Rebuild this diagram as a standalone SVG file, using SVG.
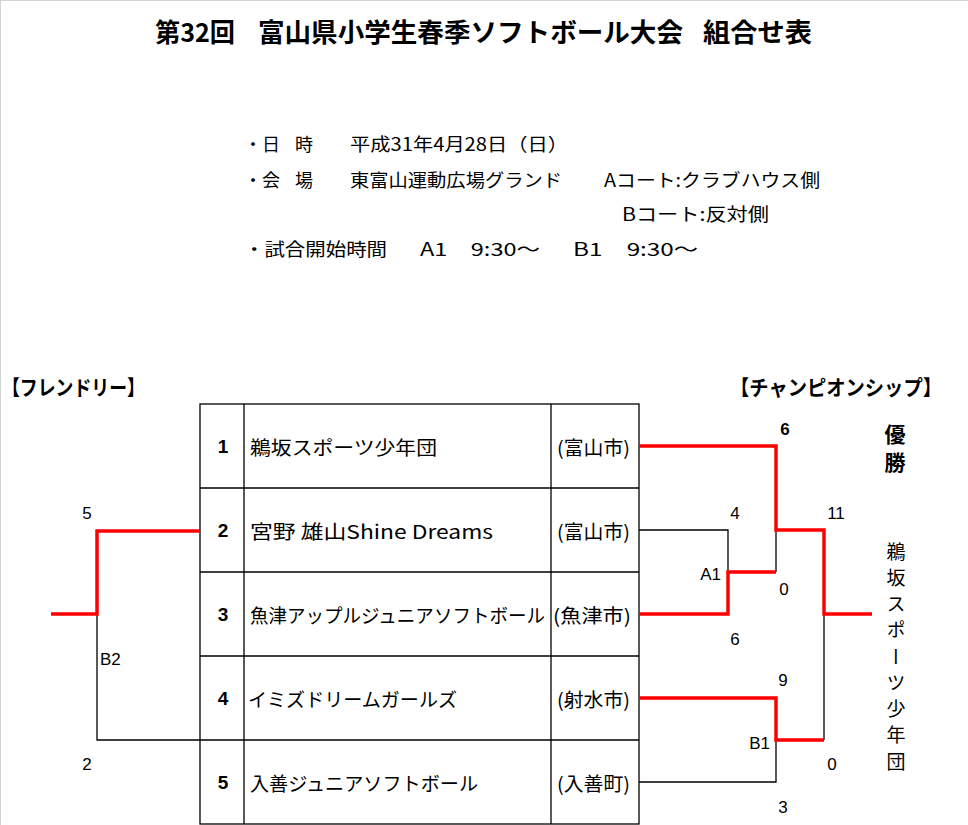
<svg xmlns="http://www.w3.org/2000/svg" width="968" height="825" viewBox="0 0 968 825">
<style>
.jp{font-family:"Noto Sans CJK JP","Noto Sans CJK SC",sans-serif;fill:#000;dominant-baseline:central}
.num{font-family:"Liberation Sans",Arial,sans-serif;fill:#000;dominant-baseline:central}
.title{font-size:26px;font-weight:bold}
.info{font-size:18px}
.head{font-size:21px;font-weight:bold}
.team{font-size:19px}
.city{font-size:19px}
.seed{font-size:19px;font-weight:bold;text-anchor:middle}
.score{font-size:17px;text-anchor:middle}
.grid{fill:none;stroke:#000;stroke-width:1.3}
.win{fill:none;stroke:#ff0000;stroke-width:3.5;stroke-linejoin:miter}
.lose{fill:none;stroke:#000;stroke-width:1.3}
</style>
<rect x="0" y="0" width="968" height="825" fill="#fff"/>
<line x1="0.5" y1="0" x2="0.5" y2="825" stroke="#d4d4d4" stroke-width="1"/>
<line x1="0" y1="0.5" x2="968" y2="0.5" stroke="#d4d4d4" stroke-width="1"/>

<g id="title">
<text class="jp title" x="155" y="30" textLength="80" lengthAdjust="spacingAndGlyphs">第32回</text>
<text class="jp title" x="258" y="30" textLength="425" lengthAdjust="spacingAndGlyphs">富山県小学生春季ソフトボール大会</text>
<text class="jp title" x="703" y="30" textLength="109" lengthAdjust="spacingAndGlyphs">組合せ表</text>
</g>

<g id="info">
<text class="jp info" x="244" y="143">・日</text>
<text class="jp info" x="295" y="143">時</text>
<text class="jp info" x="350" y="143" textLength="218" lengthAdjust="spacingAndGlyphs">平成31年4月28日（日）</text>
<text class="jp info" x="244" y="179">・会</text>
<text class="jp info" x="295" y="179">場</text>
<text class="jp info" x="350" y="179" textLength="212" lengthAdjust="spacingAndGlyphs">東富山運動広場グランド</text>
<text class="jp info" x="604" y="179" textLength="216" lengthAdjust="spacingAndGlyphs">Aコート:クラブハウス側</text>
<text class="jp info" x="622" y="213" textLength="147" lengthAdjust="spacingAndGlyphs">Bコート:反対側</text>
<text class="jp info" x="244" y="248" textLength="143" lengthAdjust="spacingAndGlyphs">・試合開始時間</text>
<text class="jp info" x="420" y="248" textLength="120" lengthAdjust="spacingAndGlyphs">A1　9:30～</text>
<text class="jp info" x="573" y="248" textLength="125" lengthAdjust="spacingAndGlyphs">B1　9:30～</text>
</g>

<g id="headings">
<text class="jp head" x="2" y="386" textLength="143" lengthAdjust="spacingAndGlyphs">【フレンドリー】</text>
<text class="jp head" x="730" y="386" textLength="212" lengthAdjust="spacingAndGlyphs">【チャンピオンシップ】</text>
</g>

<g id="table">
<rect class="grid" x="200" y="404" width="439" height="420"/>
<line class="grid" x1="244" y1="404" x2="244" y2="824"/>
<line class="grid" x1="551" y1="404" x2="551" y2="824"/>
<line class="grid" x1="200" y1="488" x2="639" y2="488"/>
<line class="grid" x1="200" y1="572" x2="639" y2="572"/>
<line class="grid" x1="200" y1="656" x2="639" y2="656"/>
<line class="grid" x1="200" y1="740" x2="639" y2="740"/>
</g>

<g id="team1">
<text class="num seed" x="223" y="446">1</text>
<text class="jp team" x="250" y="446" textLength="187" lengthAdjust="spacingAndGlyphs">鵜坂スポーツ少年団</text>
<text class="jp city" x="557" y="446" textLength="73" lengthAdjust="spacingAndGlyphs">(富山市)</text>
</g>
<g id="team2">
<text class="num seed" x="223" y="530">2</text>
<text class="jp team" x="250" y="530" textLength="243" lengthAdjust="spacingAndGlyphs">宮野 雄山Shine Dreams</text>
<text class="jp city" x="557" y="530" textLength="73" lengthAdjust="spacingAndGlyphs">(富山市)</text>
</g>
<g id="team3">
<text class="num seed" x="223" y="614">3</text>
<text class="jp team" x="250" y="614" textLength="295" lengthAdjust="spacingAndGlyphs">魚津アップルジュニアソフトボール</text>
<text class="jp city" x="553" y="614" textLength="78" lengthAdjust="spacingAndGlyphs">(魚津市)</text>
</g>
<g id="team4">
<text class="num seed" x="223" y="698">4</text>
<text class="jp team" x="248" y="698" textLength="209" lengthAdjust="spacingAndGlyphs">イミズドリームガールズ</text>
<text class="jp city" x="557" y="698" textLength="73" lengthAdjust="spacingAndGlyphs">(射水市)</text>
</g>
<g id="team5">
<text class="num seed" x="223" y="782">5</text>
<text class="jp team" x="250" y="782" textLength="228" lengthAdjust="spacingAndGlyphs">入善ジュニアソフトボール</text>
<text class="jp city" x="557" y="782" textLength="73" lengthAdjust="spacingAndGlyphs">(入善町)</text>
</g>

<g id="connectors">
<polyline class="lose" points="97,614 97,740 200,740"/>
<polyline class="win" points="51,614 97,614 97,531 200,531"/>
<polyline class="lose" points="639,530 728,530 728,572"/>
<polyline class="lose" points="776,530 776,572"/>
<polyline class="lose" points="824,614 824,740"/>
<polyline class="lose" points="639,782 776,782 776,740"/>
<polyline class="win" points="639,446 776,446 776,530 824,530 824,614 872,614"/>
<polyline class="win" points="639,614 728,614 728,572 776,572"/>
<polyline class="win" points="639,698 776,698 776,740 824,740"/>
</g>

<g id="labels">
<text class="num score" x="87" y="513">5</text>
<text class="num" x="100" y="659" font-size="17">B2</text>
<text class="num score" x="87" y="764">2</text>
<text class="num score" x="785" y="429" font-size="19" font-weight="bold">6</text>
<text class="num score" x="735" y="513">4</text>
<text class="num score" x="836" y="513">11</text>
<text class="num" x="721" y="574" font-size="17" text-anchor="end">A1</text>
<text class="num score" x="784" y="589">0</text>
<text class="num score" x="735" y="639">6</text>
<text class="num score" x="783" y="680">9</text>
<text class="num" x="770" y="743" font-size="17" text-anchor="end">B1</text>
<text class="num score" x="832" y="764">0</text>
<text class="num score" x="783" y="807">3</text>
</g>

<g id="champion">
<text class="jp" x="895" y="433" font-size="21" font-weight="bold" text-anchor="middle">優</text>
<text class="jp" x="895" y="461" font-size="21" font-weight="bold" text-anchor="middle">勝</text>
<text class="jp" x="896" y="542" font-size="19" style="writing-mode:vertical-rl;letter-spacing:7.25px;dominant-baseline:auto">鵜坂スポーツ少年団</text>
</g>
</svg>
